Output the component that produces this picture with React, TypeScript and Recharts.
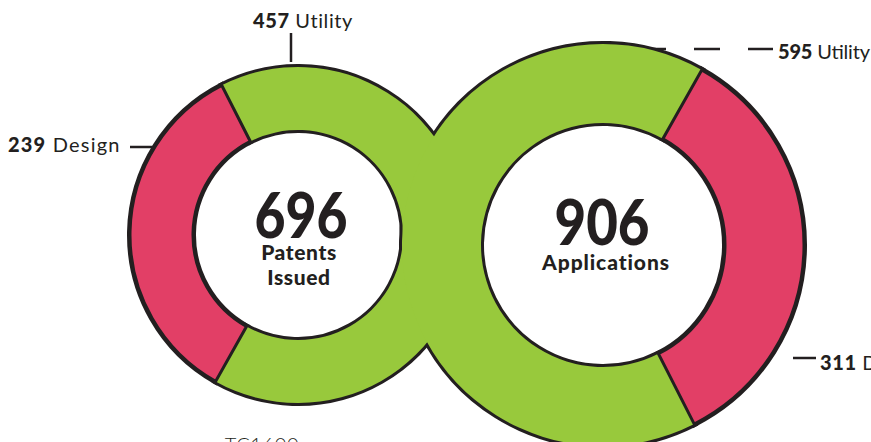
import { Cell, Pie, PieChart } from "recharts";

const categories = ["Design", "Utility"];
const issuedValues = [239, 457];
const applicationValues = [311, 595];
const issuedTitle = ["Patents", "Issued"];
const applicationTitle = ["Applications"];
const footerText = "TC1600";

const GREEN = "#98c93c";
const RED = "#e23f66";
const INK = "#231f20";
const FONT = "Lato, 'Open Sans', sans-serif";

const issued = categories.map((name, i) => ({ name, value: issuedValues[i] }));
const applications = categories.map((name, i) => ({ name, value: applicationValues[i] }));
const sum = (xs: number[]) => xs.reduce((a, b) => a + b, 0);

const left = { cx: 298, cy: 235, inner: 105, outer: 168, start: 117 };
const right = { cx: 603, cy: 245, inner: 122, outer: 201, start: -63 };

type Ring = typeof left;

function ringLayers(ring: Ring, data: { name: string; value: number }[], key: string) {
  const common = {
    data,
    dataKey: "value",
    cx: ring.cx,
    cy: ring.cy,
    innerRadius: ring.inner,
    outerRadius: ring.outer,
    startAngle: ring.start,
    endAngle: ring.start + 360,
    isAnimationActive: false,
  };
  return {
    outline: (
      <Pie key={key + "-o"} {...common} stroke={INK} strokeWidth={6}>
        {data.map((d, i) => (
          <Cell key={i} fill={d.name === "Design" ? RED : GREEN} />
        ))}
      </Pie>
    ),
    fill: (
      <Pie key={key + "-f"} {...common} stroke="none">
        {data.map((d, i) => (
          <Cell key={i} fill={d.name === "Design" ? RED : GREEN} />
        ))}
      </Pie>
    ),
    accent: (
      <Pie key={key + "-a"} {...common} strokeWidth={3}>
        {data.map((d, i) =>
          d.name === "Design" ? (
            <Cell key={i} fill={RED} stroke={INK} />
          ) : (
            <Cell key={i} fill="none" stroke="none" />
          )
        )}
      </Pie>
    ),
  };
}

export default function App() {
  const l = ringLayers(left, issued, "l");
  const r = ringLayers(right, applications, "r");
  const labelStyle = { fontFamily: FONT, fontSize: 20, fill: INK, letterSpacing: 0.6 };

  return (
    <div style={{ position: "relative", width: 871, height: 442, overflow: "hidden", background: "#fff" }}>
      <style>{"body{margin:0}"}</style>
      <svg width={871} height={442} style={{ position: "absolute", left: 0, top: 0 }}>
        <g stroke={INK} strokeWidth={2.5}>
          <line x1={291} y1={33} x2={291} y2={62} />
          <line x1={130} y1={147} x2={160} y2={147} />
          <line x1={640} y1={49} x2={773} y2={49} strokeDasharray="26 28" />
          <line x1={793} y1={358} x2={816} y2={358} />
        </g>
      </svg>
      <div style={{ position: "absolute", left: 0, top: 0 }}>
        <PieChart width={871} height={442} margin={{ top: 0, right: 0, bottom: 0, left: 0 }}>
          {l.outline}
          {r.outline}
          {l.fill}
          {r.fill}
          {l.accent}
          {r.accent}
        </PieChart>
      </div>
      <svg width={871} height={442} style={{ position: "absolute", left: 0, top: 0 }}>
        <g style={labelStyle}>
          <text x={253} y={28}>
            <tspan fontWeight={900}>{issuedValues[1]}</tspan> {categories[1]}
          </text>
          <text x={8} y={152} textLength={112} lengthAdjust="spacing">
            <tspan fontWeight={900}>{issuedValues[0]}</tspan> {categories[0]}
          </text>
          <text x={778} y={59} textLength={92} lengthAdjust="spacing" style={{ letterSpacing: 0 }}>
            <tspan fontWeight={900}>{applicationValues[1]}</tspan> {categories[1]}
          </text>
          <text x={820} y={370}>
            <tspan fontWeight={900}>{applicationValues[0]}</tspan> {categories[0]}
          </text>
          <text x={262} y={452} fontWeight={300} textAnchor="middle">{footerText}</text>
        </g>
        <g fontFamily={FONT} fill={INK} textAnchor="middle" fontWeight={900}>
          <text x={301} y={238} fontSize={62} textLength={93} lengthAdjust="spacingAndGlyphs">
            {sum(issuedValues)}
          </text>
          <text x={299} y={260} fontSize={21} letterSpacing={0.6}>{issuedTitle[0]}</text>
          <text x={299} y={285} fontSize={21} letterSpacing={0.6}>{issuedTitle[1]}</text>
          <text x={602} y={245} fontSize={62} textLength={95} lengthAdjust="spacingAndGlyphs">
            {sum(applicationValues)}
          </text>
          <text x={606} y={270} fontSize={21} letterSpacing={0.9}>{applicationTitle[0]}</text>
        </g>
      </svg>
    </div>
  );
}
